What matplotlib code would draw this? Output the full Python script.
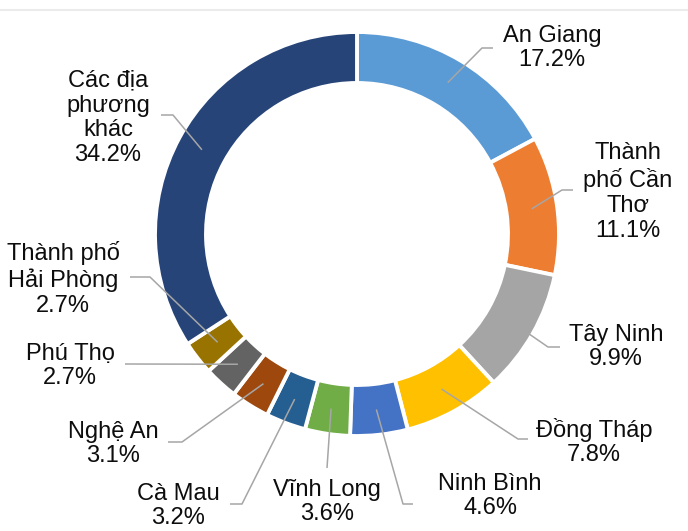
import matplotlib.pyplot as plt
import numpy as np

plt.rcParams['font.family'] = ['Liberation Sans', 'DejaVu Sans']

# data
regions = ["An Giang", "Thành\nphố Cần\nThơ", "Tây Ninh", "Đồng Tháp", "Ninh Bình",
           "Vĩnh Long", "Cà Mau", "Nghệ An", "Phú Thọ", "Thành phố\nHải Phòng",
           "Các địa\nphương\nkhác"]
shares = [17.2, 11.1, 9.9, 7.8, 4.6, 3.6, 3.2, 3.1, 2.7, 2.7, 34.2]
colors = ["#5B9BD5", "#ED7D31", "#A5A5A5", "#FFC000", "#4472C4", "#70AD47",
          "#255E91", "#9E480E", "#636363", "#997300", "#264478"]

# layout in pixel coordinates (y measured from the top)
W, H = 688, 531
cx, cy = 357, 234
R, ring = 202, 51
label_pos = [(552, 48), (628, 192), (616, 347), (594, 442), (490, 496),
             (327, 502), (178, 506), (113, 444), (70, 366), (63, 279),
             (108, 118)]
# elbow point and end point of each leader line
leaders = [((482, 48), (493, 48)), ((562, 190), (573, 190)),
           ((548, 347), (560, 347)), ((518, 439), (528, 439)),
           ((403, 504), (413, 504)), ((327, 468), (327, 468)),
           ((242, 504), (230, 504)), ((182, 442), (168, 442)),
           ((125, 364), (125, 364)), ((150, 277), (130, 277)),
           ((173, 115), (161, 115))]


def fy(y):
    return H - y


fig = plt.figure(figsize=(W / 100, H / 100), dpi=100)
ax = fig.add_axes([0, 0, 1, 1])

wedges, _ = ax.pie(shares, colors=colors, radius=R, center=(cx, fy(cy)),
                   startangle=90, counterclock=False,
                   wedgeprops=dict(width=ring, edgecolor="white", linewidth=2.8))

ax.set_xlim(0, W)
ax.set_ylim(0, H)
ax.set_aspect("equal")
ax.axis("off")

# thin frame line at the top
ax.plot([0, W], [fy(10), fy(10)], color="#EBEBEB", lw=1.5)

r_mid = R - ring / 2
for w, name, share, (lx, ly), (elbow, end) in zip(wedges, regions, shares,
                                                   label_pos, leaders):
    ang = np.deg2rad((w.theta1 + w.theta2) / 2)
    ax0 = cx + r_mid * np.cos(ang)
    ay0 = fy(cy) + r_mid * np.sin(ang)
    ax.plot([ax0, elbow[0], end[0]], [ay0, fy(elbow[1]), fy(end[1])],
            color="#A6A6A6", lw=1.1, solid_capstyle="butt")
    ax.text(lx, fy(ly), f"{name}\n{share:.1f}%", ha="center", va="center",
            multialignment="center", fontsize=17, color="#0D0D0D",
            linespacing=1.17)

fig.savefig("out.png", dpi=100)
